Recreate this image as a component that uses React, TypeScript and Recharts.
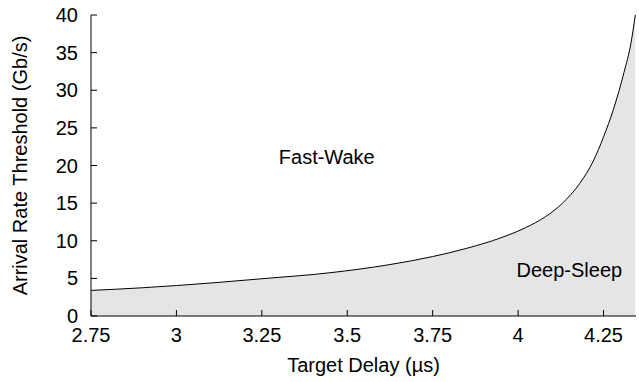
import { ComposedChart, Area, XAxis, YAxis, ReferenceDot } from 'recharts'

// target delay (µs) vs arrival-rate threshold (Gb/s)
const delay = [2.75, 2.9, 3.0, 3.1, 3.25, 3.45, 3.62, 3.75, 3.85, 3.95, 4.02, 4.08, 4.13, 4.18, 4.22, 4.25, 4.28, 4.31, 4.33, 4.343]
const threshold = [3.4, 3.75, 4.05, 4.38, 4.95, 5.75, 6.8, 7.9, 9.0, 10.4, 11.7, 13.2, 15.0, 17.6, 20.6, 23.8, 27.6, 32.4, 36.2, 40]

const xTicks = [2.75, 3, 3.25, 3.5, 3.75, 4, 4.25]
const yTicks = [0, 5, 10, 15, 20, 25, 30, 35, 40]

const regionNames = ['Fast-Wake', 'Deep-Sleep']
const regionAt = [
  { t: 3.44, v: 21.1 },
  { t: 4.15, v: 6.1 },
]

const data = delay.map((t, i) => ({ t, v: threshold[i] }))

const FONT = 'Liberation Sans, Arial, Helvetica, sans-serif'
const FS = 20
const TICK_LEN = 6

function BottomTick({ x, y, payload }: any) {
  const axisY = y - 12
  return (
    <g>
      <line x1={x} y1={axisY} x2={x} y2={axisY - TICK_LEN} stroke="#000" />
      <text x={x} y={y} dy="0.71em" textAnchor="middle" fontSize={FS} fontFamily={FONT} fill="#000">
        {payload.value}
      </text>
    </g>
  )
}

function LeftTick({ x, y, payload }: any) {
  const axisX = x + 13
  return (
    <g>
      <line x1={axisX} y1={y} x2={axisX + TICK_LEN} y2={y} stroke="#000" />
      <text x={x} y={y} dy="0.355em" textAnchor="end" fontSize={FS} fontFamily={FONT} fill="#000">
        {payload.value}
      </text>
    </g>
  )
}

function TopTick({ x, y }: any) {
  return <line x1={x} y1={y} x2={x} y2={y + TICK_LEN} stroke="#000" />
}

function RightTick({ x, y }: any) {
  return <line x1={x} y1={y} x2={x - TICK_LEN} y2={y} stroke="#000" />
}

export default function App() {
  return (
    <div style={{ width: 639, height: 382, background: '#fff' }}>
      <style>{'body{margin:0}'}</style>
      <ComposedChart width={639} height={382} data={data} margin={{ top: 15, right: 3, left: 0, bottom: 0 }}>
        <XAxis
          dataKey="t"
          type="number"
          domain={[2.75, 4.345]}
          ticks={xTicks}
          allowDataOverflow
          height={66}
          tickSize={0}
          tickMargin={12}
          tickLine={false}
          tick={<BottomTick />}
          axisLine={{ stroke: '#000' }}
          label={{ value: 'Target Delay (µs)', position: 'insideBottom', offset: 10, fontSize: FS, fontFamily: FONT, fill: '#000' }}
        />
        <XAxis
          xAxisId="top"
          orientation="top"
          type="number"
          domain={[2.75, 4.345]}
          ticks={xTicks}
          allowDataOverflow
          height={0}
          tickSize={0}
          tickMargin={0}
          tickLine={false}
          tick={<TopTick />}
          axisLine={{ stroke: '#000' }}
        />
        <YAxis
          type="number"
          domain={[0, 40]}
          ticks={yTicks}
          allowDataOverflow
          width={91}
          tickSize={0}
          tickMargin={13}
          tickLine={false}
          tick={<LeftTick />}
          axisLine={{ stroke: '#000' }}
          label={{
            value: 'Arrival Rate Threshold (Gb/s)',
            angle: -90,
            position: 'insideLeft',
            offset: 20,
            fontSize: FS,
            fontFamily: FONT,
            fill: '#000',
            style: { textAnchor: 'middle' },
          }}
        />
        <YAxis
          yAxisId="right"
          orientation="right"
          type="number"
          domain={[0, 40]}
          ticks={yTicks}
          width={0}
          tickSize={0}
          tickMargin={0}
          tickLine={false}
          tick={<RightTick />}
          axisLine={{ stroke: '#000' }}
        />
        <Area
          type="monotone"
          dataKey="v"
          stroke="#000"
          strokeWidth={1}
          fill="#e5e5e5"
          fillOpacity={1}
          dot={false}
          activeDot={false}
          isAnimationActive={false}
        />
        {regionAt.map((p, i) => (
          <ReferenceDot
            key={regionNames[i]}
            x={p.t}
            y={p.v}
            r={0}
            stroke="none"
            label={{ value: regionNames[i], position: 'center', fontSize: FS, fontFamily: FONT, fill: '#000' }}
          />
        ))}
      </ComposedChart>
    </div>
  )
}
